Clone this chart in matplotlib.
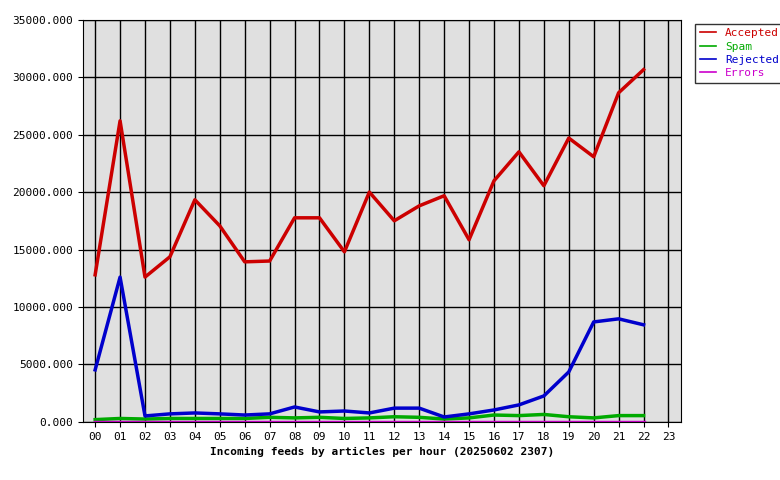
import matplotlib
matplotlib.use("Agg")
import matplotlib.pyplot as plt

hours = ["%02d" % i for i in range(24)]
accepted = [12800, 26200, 12600, 14370, 19330, 17060, 13930, 14000, 17760, 17760, 14800, 20000,
            17500, 18800, 19680, 15850, 20980, 23500, 20550, 24700, 23070, 28640, 30650]
spam = [200, 300, 250, 300, 300, 300, 300, 400, 350, 400, 300, 350,
        450, 400, 250, 350, 600, 550, 650, 450, 350, 550, 550]
rejected = [4530, 12600, 520, 700, 780, 700, 600, 700, 1300, 870, 950, 780,
            1200, 1200, 430, 700, 1040, 1480, 2260, 4350, 8700, 8970, 8450]
errors = [20] * 23

plt.rcParams['font.family'] = ['DejaVu Sans Mono']
fig = plt.figure(figsize=(7.8, 4.8), dpi=100)
ax = fig.add_axes([0.106, 0.121, 0.767, 0.838])
ax.set_facecolor('#e0e0e0')
x = list(range(len(accepted)))
for data, c, lab in [(accepted, '#cc0000', 'Accepted'), (spam, '#00aa00', 'Spam'),
                     (rejected, '#0000cc', 'Rejected'), (errors, '#cc00cc', 'Errors')]:
    ax.plot(x, data, color=c, lw=2.5, label=lab)
ax.set_xlim(-0.5, 23.5)
ax.set_ylim(0, 35000)
ax.set_xticks(range(24))
ax.set_xticklabels(hours, fontsize=8)
ax.set_yticks(range(0, 35001, 5000))
ax.set_yticklabels(["%d.000" % v for v in range(0, 35001, 5000)], fontsize=8)
ax.grid(True, color='black', lw=1)
ax.set_axisbelow(True)
ax.set_xlabel("Incoming feeds by articles per hour (20250602 2307)", fontsize=8, fontweight='bold')
leg = fig.legend(loc='upper left', bbox_to_anchor=(0.884, 0.962), fontsize=8, frameon=True,
                 fancybox=False, edgecolor='black', handlelength=1.5, borderpad=0.4, labelspacing=0.3)
for t, h in zip(leg.get_texts(), leg.get_lines()):
    t.set_color(h.get_color())
    h.set_linewidth(1.2)
fig.savefig("out.png")
